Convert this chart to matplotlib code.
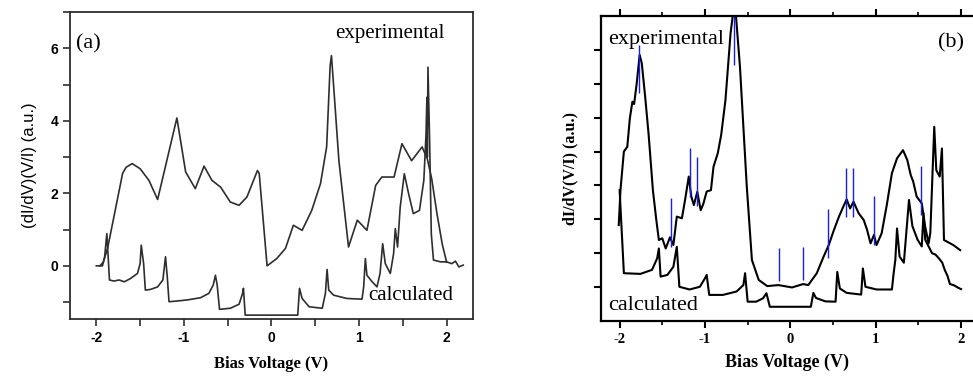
import numpy as np
import matplotlib.pyplot as plt
from matplotlib.ticker import MultipleLocator

# panel (a) - experimental
a_exp_x = [-1.96, -1.92, -1.87, -1.70, -1.66, -1.59, -1.50, -1.40, -1.30, -1.08, -0.98, -0.87,
           -0.77, -0.68, -0.58, -0.47, -0.37, -0.28, -0.16, -0.14, -0.05, 0.06, 0.16, 0.25,
           0.35, 0.46, 0.56, 0.63, 0.67, 0.685, 0.70, 0.77, 0.88, 0.98, 1.09, 1.19, 1.26,
           1.40, 1.49, 1.60, 1.72, 1.78, 1.83, 1.89, 1.95, 2.00]
a_exp_y = [0.0, 0.1, 0.5, 2.55, 2.72, 2.82, 2.68, 2.36, 1.83, 4.08, 2.59, 2.13,
           2.75, 2.36, 2.17, 1.76, 1.67, 1.90, 2.63, 2.55, 0.0, 0.2, 0.48, 1.12,
           0.98, 1.53, 2.27, 3.28, 5.52, 5.80, 5.30, 2.90, 0.52, 1.26, 0.98, 2.22, 2.45,
           2.45, 3.37, 2.90, 3.28, 2.95, 2.40, 1.44, 0.60, 0.10]

# panel (a) - calculated
a_calc_x = [-2.0, -1.93, -1.905, -1.88, -1.867, -1.85, -1.80, -1.74, -1.68, -1.61, -1.53, -1.50,
            -1.487, -1.46, -1.44, -1.38, -1.30, -1.24, -1.21, -1.19, -1.17, -1.076, -0.96, -0.81,
            -0.715, -0.665, -0.64, -0.62, -0.593, -0.47, -0.37, -0.33, -0.32, -0.30, 0.30, 0.32,
            0.35, 0.43, 0.58, 0.616, 0.635, 0.654, 0.71, 0.86, 1.034, 1.053, 1.072, 1.09,
            1.15, 1.205, 1.24, 1.27, 1.30, 1.357, 1.395, 1.414, 1.44, 1.47, 1.517, 1.566,
            1.62, 1.69, 1.74, 1.765, 1.775, 1.78, 1.787, 1.806, 1.825, 1.85, 1.93, 2.00,
            2.06, 2.10, 2.14, 2.19]
a_calc_y = [0.0, 0.0, 0.25, 0.89, 0.34, -0.39, -0.42, -0.39, -0.44, -0.35, -0.21, 0.06,
            0.57, 0.06, -0.67, -0.65, -0.58, -0.39, 0.25, -0.30, -0.99, -0.97, -0.94, -0.88,
            -0.76, -0.53, -0.26, -0.53, -1.20, -1.17, -1.06, -0.76, -0.62, -1.36, -1.36, -0.62,
            -0.90, -1.13, -1.17, -0.76, -0.10, -0.67, -0.81, -0.90, -0.92, -0.58, 0.20, -0.26,
            -0.44, -0.58, -0.21, 0.61, 0.06, -0.21, 0.34, 1.03, 0.52, 1.62, 2.54, 1.99,
            1.44, 1.53, 2.36, 3.64, 4.65, 3.00, 5.48, 3.46, 0.89, 0.16, 0.11, 0.11,
            0.06, 0.13, -0.03, 0.02]

# panel (b) - experimental
b_exp_x = [-2.01, -1.99, -1.95, -1.91, -1.88, -1.85, -1.83, -1.80, -1.765, -1.74, -1.70, -1.66,
           -1.61, -1.57, -1.54, -1.50, -1.46, -1.41, -1.37, -1.33, -1.27, -1.23, -1.19, -1.16,
           -1.13, -1.09, -1.05, -1.02, -0.98, -0.93, -0.90, -0.85, -0.81, -0.76, -0.70, -0.67,
           -0.64, -0.59, -0.51, -0.45, -0.37, -0.27, -0.14, 0.02, 0.15, 0.21, 0.31, 0.39,
           0.45, 0.51, 0.57, 0.62, 0.66, 0.70, 0.74, 0.80, 0.86, 0.90, 0.94, 0.98,
           1.01, 1.07, 1.13, 1.19, 1.25, 1.32, 1.37, 1.41, 1.44, 1.48, 1.54, 1.58,
           1.62, 1.64, 1.686, 1.71, 1.75, 1.776, 1.80, 1.91, 1.99]
b_exp_y = [2.83, 3.86, 5.00, 5.14, 5.98, 6.47, 6.40, 7.00, 7.85, 7.60, 6.60, 5.50,
           3.86, 2.98, 2.39, 2.44, 2.14, 2.47, 2.24, 3.08, 3.03, 3.62, 4.26, 3.67,
           3.42, 3.81, 3.27, 3.45, 3.82, 3.86, 4.55, 4.95, 5.49, 6.52, 8.49, 9.10,
           9.10, 7.50, 3.96, 1.80, 1.21, 1.03, 1.06, 0.99, 1.09, 1.06, 1.41, 1.90,
           2.24, 2.68, 3.08, 3.37, 3.59, 3.32, 3.52, 3.18, 2.98, 2.68, 2.29, 2.54,
           2.24, 2.59, 3.42, 4.36, 4.80, 5.04, 4.75, 4.31, 4.11, 3.67, 3.47, 2.78,
           2.29, 2.60, 5.73, 4.45, 4.26, 5.09, 2.39, 2.24, 2.09]

# panel (b) - calculated
b_calc_x = [-2.0, -1.95, -1.756, -1.62, -1.56, -1.54, -1.52, -1.44, -1.37, -1.33, -1.30, -1.18,
            -1.06, -1.00, -0.98, -0.95, -0.79, -0.63, -0.55, -0.53, -0.50, -0.40, -0.32, -0.28,
            -0.24, 0.24, 0.27, 0.30, 0.41, 0.53, 0.55, 0.58, 0.66, 0.83, 0.85, 0.88,
            1.01, 1.19, 1.21, 1.23, 1.25, 1.28, 1.33, 1.39, 1.43, 1.49, 1.54, 1.56,
            1.58, 1.62, 1.66, 1.70, 1.74, 1.78, 1.81, 1.84, 1.87, 1.92, 1.96, 2.00]
b_calc_y = [3.86, 1.41, 1.39, 1.51, 1.85, 2.14, 1.31, 1.36, 1.60, 2.19, 1.01, 0.93,
            1.01, 1.26, 1.36, 0.77, 0.77, 0.87, 1.06, 1.41, 0.57, 0.57, 0.67, 0.82,
            0.42, 0.42, 0.83, 0.68, 0.58, 0.57, 1.45, 0.96, 0.83, 0.78, 1.55, 1.01,
            0.93, 0.93, 1.40, 1.80, 2.73, 1.90, 1.72, 3.57, 2.80, 2.40, 2.20, 3.18,
            2.40, 2.20, 2.00, 1.96, 1.85, 1.72, 1.50, 1.34, 1.09, 1.05, 0.99, 0.94]

# blue marker lines in (b)
blue_x = [-1.768, -0.664, -1.393, -1.171, -1.097, -0.129, 0.148, 0.445, 0.656, 0.734, 0.976, 1.534]
blue_lo = [6.74, 7.55, 2.19, 3.67, 3.39, 1.18, 1.21, 1.87, 3.08, 3.08, 2.24, 3.13]
blue_hi = [8.14, 9.10, 3.64, 5.09, 4.85, 2.16, 2.18, 3.30, 4.50, 4.50, 3.69, 4.58]

fig = plt.figure(figsize=(9.73, 3.79), dpi=100)

# ---- (a) ----
ax1 = fig.add_axes([0.072, 0.158, 0.414, 0.810])
grey = '#2e2e2e'
ax1.plot(a_exp_x, a_exp_y, color=grey, lw=1.2)
ax1.plot(a_calc_x, a_calc_y, color=grey, lw=1.2)
ax1.set_xlim(-2.3, 2.3)
ax1.set_ylim(-1.47, 7.0)
ax1.xaxis.set_minor_locator(MultipleLocator(0.5))
ax1.yaxis.set_minor_locator(MultipleLocator(1))
ax1.tick_params(which='both', direction='out', length=5, width=1.2, color=grey)
ax1.set_xticks([-2, -1, 0, 1, 2])
ax1.set_xticklabels(['-2', '-1', '0', '1', '2'], fontweight='bold', family='Liberation Sans', fontsize=10)
ax1.set_yticks([0, 2, 4, 6])
ax1.set_yticklabels(['0', '2', '4', '6'], fontweight='bold', family='Liberation Sans', fontsize=10)
for s in ax1.spines.values():
    s.set_color(grey)
    s.set_linewidth(1.3)
ax1.set_xlabel('Bias Voltage (V)', family='Liberation Serif', fontweight='bold', fontsize=12, labelpad=8)
ax1.set_ylabel('(dI/dV)(V/I) (a.u.)', family='Liberation Sans', fontsize=12, labelpad=10)
ax1.text(-2.235, 6.13, '(a)', family='Liberation Serif', fontsize=16, va='center', ha='left')
ax1.text(0.73, 6.4, 'experimental', family='Liberation Serif', fontsize=15, va='center', ha='left')
ax1.text(1.106, -0.81, 'calculated', family='Liberation Serif', fontsize=15, va='center', ha='left')

# ---- (b) ----
ax2 = fig.add_axes([0.6175, 0.153, 0.3825, 0.805])
ax2.plot(b_exp_x, b_exp_y, color='black', lw=1.5)
ax2.plot(b_calc_x, b_calc_y, color='black', lw=1.5)
ax2.vlines(blue_x, blue_lo, blue_hi, color='#1a1aff', lw=1.0)
ax2.set_xlim(-2.22, 2.14)
ax2.set_ylim(0, 9)
ax2.xaxis.set_minor_locator(MultipleLocator(0.5))
ax2.set_yticks(np.arange(1, 9))
ax2.set_yticklabels([])
ax2.tick_params(which='major', direction='out', length=5, width=1.5, top=True)
ax2.tick_params(which='minor', direction='out', length=3, width=1.2, top=True)
ax2.set_xticks([-2, -1, 0, 1, 2])
ax2.set_xticklabels(['-2', '-1', '0', '1', '2'], family='Liberation Serif', fontweight='bold', fontsize=10.5)
ax2.spines['right'].set_visible(False)
for s in ['left', 'top', 'bottom']:
    ax2.spines[s].set_linewidth(1.6)
ax2.set_xlabel('Bias Voltage (V)', family='Liberation Serif', fontweight='bold', fontsize=13, labelpad=6)
ax2.set_ylabel('dI/dV(V/I) (a.u.)', family='Liberation Serif', fontweight='bold', fontsize=11.5, labelpad=8)
ax2.text(-2.13, 8.29, 'experimental', family='Liberation Serif', fontsize=16, va='center', ha='left')
ax2.text(-2.13, 0.47, 'calculated', family='Liberation Serif', fontsize=16, va='center', ha='left')
ax2.text(1.73, 8.2, '(b)', family='Liberation Serif', fontsize=16, va='center', ha='left')

fig.savefig('out.png', dpi=100)
